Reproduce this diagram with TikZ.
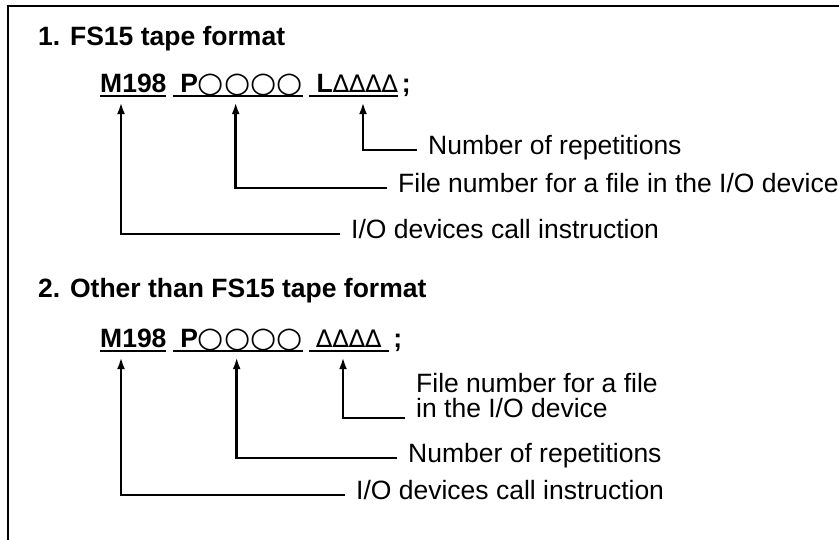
\documentclass[tikz,border=0pt]{standalone}
\usepackage{fontspec}
\setmainfont{Liberation Sans}
\newfontfamily\symfont{DejaVu Sans}[Scale=1.08, FakeStretch=1.05]
\newfontfamily\trifont{DejaVu Sans}[Scale=0.92]
\usetikzlibrary{arrows.meta, calc}

\newcommand{\sz}{\fontsize{26.5}{25}\selectfont}
\newcommand{\rnd}{{\symfont\mdseries ○}}
\newcommand{\tri}{{\trifont\mdseries ∆}}
\newcommand{\ul}[1]{\setbox0\hbox{#1}\rlap{\rule[-5pt]{\wd0}{2pt}}\box0}

\tikzset{
    heading/.style={anchor=base west, inner sep=0pt, font=\sz\bfseries},
    code/.style={anchor=base west, inner xsep=0pt, inner ysep=5pt, font=\sz\bfseries},
    lbl/.style={anchor=base west, inner xsep=11pt, inner ysep=0pt, font=\sz},
    conn/.style={line width=2.6pt, -{Latex[length=12pt,width=8pt]}}
}

\begin{document}
\begin{tikzpicture}[x=1pt, y=-1pt]
\useasboundingbox (0,0) rectangle (839,539);

% Rahmen
\draw[line width=2.4pt] (8,540) -- (8,6) -- (840,6);

% Abschnitt 1
\node[heading] (h1) at (38,45) {1. FS15 tape format};
\node[code] (m1) at (100,92) {\ul{M198}};
\node[code] (p1) at ([xshift=6pt]m1.base east) {\ul{\ P\rnd\rnd\rnd\rnd}};
\node[code] (l1) at ([xshift=6pt]p1.base east) {\ul{\ L\tri\tri\tri\tri}\hspace{4pt};};

\node[lbl] (n1)  at (417,154) {Number of repetitions};
\node[lbl] (f1)  at (387,192) {File number for a file in the I/O device};
\node[lbl] (io1) at (340,238) {I/O devices call instruction};

\draw[conn] ([yshift=4pt]n1.base west) -| ([xshift=54pt]l1.south west);
\draw[conn] ([yshift=4pt]f1.base west) -| ([xshift=63pt]p1.south west);
\draw[conn] ([yshift=4pt]io1.base west) -| ([xshift=21pt]m1.south west);

% Abschnitt 2
\node[heading] (h2) at (38,297) {2. Other than FS15 tape format};
\node[code] (m2) at (100,347) {\ul{M198}};
\node[code] (p2) at ([xshift=6pt]m2.base east) {\ul{\ P\rnd\rnd\rnd\rnd}};
\node[code] (t2) at ([xshift=6pt]p2.base east) {\ul{\hspace{7pt}\tri\tri\tri\tri\hspace{8pt}}\hspace{4pt};};

\node[lbl, anchor=south west, align=left] (f2) at (405,418) {File number for a file\\in the I/O device};
\node[lbl] (n2)  at (397,462) {Number of repetitions};
\node[lbl] (io2) at (345,499) {I/O devices call instruction};

\draw[conn] (f2.south west) -| ([xshift=34pt]t2.south west);
\draw[conn] ([yshift=4pt]n2.base west) -| ([xshift=64pt]p2.south west);
\draw[conn] ([yshift=4pt]io2.base west) -| ([xshift=21pt]m2.south west);
\end{tikzpicture}
\end{document}
